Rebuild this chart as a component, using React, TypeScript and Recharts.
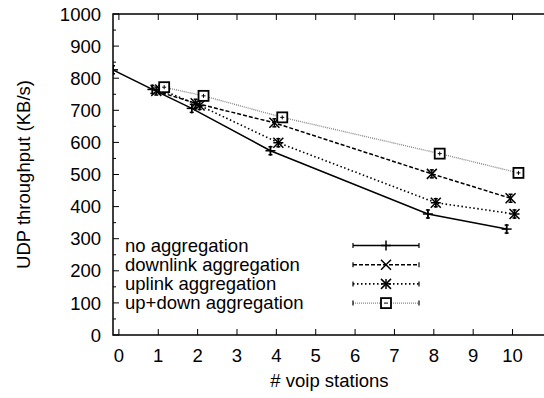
import React from 'react';
import { LineChart, Line, XAxis, YAxis, ReferenceArea } from 'recharts';

// number of voip stations measured
const stations = [0, 1, 2, 4, 8, 10];

// UDP throughput in KB/s, one list per configuration
const noAggregation = [826, 765, 706, 574, 377, 330];
const downlinkAggregation = [null, 760, 722, 661, 502, 426];
const uplinkAggregation = [null, 765, 715, 599, 412, 377];
const upDownAggregation = [null, 772, 745, 678, 565, 505];

const seriesNames = ['no aggregation', 'downlink aggregation', 'uplink aggregation', 'up+down aggregation'];
// small horizontal shift per series so the points don't sit on top of each other
const xShift = [-0.15, -0.05, 0.05, 0.15];

const xTicks = [0, 1, 2, 3, 4, 5, 6, 7, 8, 9, 10];
const yTicks = [0, 50, 100, 150, 200, 250, 300, 350, 400, 450, 500, 550, 600, 650, 700, 750, 800, 850, 900, 950, 1000];

const FONT = '"Liberation Sans", Arial, Helvetica, sans-serif';
const FS = 18.5;
const PLOT_TOP = 14;
const PLOT_BOTTOM = 335;
const PLOT_LEFT = 113;
const CHART_W = 560;
const CHART_H = 398;

type MarkerKind = 'plus' | 'cross' | 'star' | 'square';

const styles: { stroke: string; dash?: string; width: number; marker: MarkerKind }[] = [
  { stroke: '#000', width: 1.5, marker: 'plus' },
  { stroke: '#000', dash: '4 2', width: 1.5, marker: 'cross' },
  { stroke: '#000', dash: '1.5 2.5', width: 1.6, marker: 'star' },
  { stroke: '#8a8a8a', dash: '1 1', width: 1.4, marker: 'square' },
];

const allSeries = [noAggregation, downlinkAggregation, uplinkAggregation, upDownAggregation];

const seriesData = allSeries.map((vals, s) =>
  stations
    .map((st, i) => ({ x: st + xShift[s], y: vals[i] }))
    .filter((p) => p.y !== null)
);

function Marker({ cx, cy, kind, errorBar = true }: { cx: number; cy: number; kind: MarkerKind; errorBar?: boolean }) {
  const r = 5;
  const sw = 1.5;
  const bar = errorBar ? (
    <>
      <line x1={cx} x2={cx} y1={cy - 4} y2={cy + 4} stroke="#000" strokeWidth={sw} />
      <line x1={cx - 2} x2={cx + 2} y1={cy - 4} y2={cy - 4} stroke="#000" strokeWidth={sw} />
      <line x1={cx - 2} x2={cx + 2} y1={cy + 4} y2={cy + 4} stroke="#000" strokeWidth={sw} />
    </>
  ) : null;
  const plus = (
    <>
      <line x1={cx - r} x2={cx + r} y1={cy} y2={cy} stroke="#000" strokeWidth={sw} />
      <line x1={cx} x2={cx} y1={cy - r} y2={cy + r} stroke="#000" strokeWidth={sw} />
    </>
  );
  const cross = (
    <>
      <line x1={cx - r} x2={cx + r} y1={cy - r} y2={cy + r} stroke="#000" strokeWidth={sw} />
      <line x1={cx - r} x2={cx + r} y1={cy + r} y2={cy - r} stroke="#000" strokeWidth={sw} />
    </>
  );
  if (kind === 'plus') return <g>{bar}{plus}</g>;
  if (kind === 'cross') return <g>{bar}{cross}</g>;
  if (kind === 'star') return <g>{bar}{plus}{cross}</g>;
  return (
    <g>
      <rect x={cx - r} y={cy - r} width={2 * r} height={2 * r} fill="#fff" stroke="#000" strokeWidth={1.8} />
      {errorBar && <line x1={cx} x2={cx} y1={cy - 2} y2={cy + 2} stroke="#000" strokeWidth={1} />}
      <line x1={cx - 2} x2={cx + 2} y1={cy} y2={cy} stroke="#000" strokeWidth={1} />
    </g>
  );
}

function XTick(props: any) {
  const { x, payload } = props;
  return (
    <g>
      <line x1={x} x2={x} y1={PLOT_BOTTOM} y2={PLOT_BOTTOM - 6} stroke="#000" strokeWidth={1} />
      <line x1={x} x2={x} y1={PLOT_TOP} y2={PLOT_TOP + 6} stroke="#000" strokeWidth={1} />
      <text x={x} y={PLOT_BOTTOM + 27} textAnchor="middle" fontFamily={FONT} fontSize={FS} fill="#000">
        {payload.value}
      </text>
    </g>
  );
}

function YTick(props: any) {
  const { y, payload } = props;
  const major = payload.value % 100 === 0;
  return (
    <g>
      <line x1={PLOT_LEFT} x2={PLOT_LEFT + (major ? 6 : 3)} y1={y} y2={y} stroke="#000" strokeWidth={1} />
      {major && (
        <text x={PLOT_LEFT - 12} y={y + 6.6} textAnchor="end" fontFamily={FONT} fontSize={FS} fill="#000">
          {payload.value}
        </text>
      )}
    </g>
  );
}

function Legend() {
  const rowBaselines = [251.5, 270.7, 289.9, 309.1];
  const x1 = 353;
  const x2 = 419;
  const mid = 386;
  return (
    <svg width={544} height={398} style={{ position: 'absolute', left: 0, top: 0, pointerEvents: 'none' }}>
      {seriesNames.map((name, i) => {
        const st = styles[i];
        const ly = rowBaselines[i] - 6;
        return (
          <g key={name}>
            <text x={125} y={rowBaselines[i]} fontFamily={FONT} fontSize={FS} fill="#000">
              {name}
            </text>
            <line x1={x1} x2={x2} y1={ly} y2={ly} stroke={st.stroke} strokeWidth={st.width} strokeDasharray={st.dash} />
            <line x1={x1} x2={x1} y1={ly - 2.5} y2={ly + 2.5} stroke="#000" strokeWidth={1.2} />
            <line x1={x2} x2={x2} y1={ly - 2.5} y2={ly + 2.5} stroke="#000" strokeWidth={1.2} />
            <Marker cx={mid} cy={ly} kind={st.marker} errorBar={false} />
          </g>
        );
      })}
    </svg>
  );
}

export default function App() {
  return (
    <div style={{ position: 'fixed', left: 0, top: 0, width: 544, height: 398, overflow: 'hidden', background: '#fff' }}>
      <div style={{ position: 'relative', width: CHART_W, height: CHART_H }}>
        <LineChart
          width={CHART_W}
          height={CHART_H}
          margin={{ top: PLOT_TOP, right: CHART_W - 546, bottom: 0, left: 0 }}
        >
          <XAxis
            type="number"
            dataKey="x"
            domain={[-0.15, 10.85]}
            ticks={xTicks}
            interval={0}
            allowDataOverflow
            axisLine={false}
            tickLine={false}
            height={CHART_H - PLOT_BOTTOM}
            tick={<XTick />}
            label={{
              content: (p: any) => {
                const vb = p.viewBox;
                return (
                  <text x={vb.x + vb.width / 2} y={387} textAnchor="middle" fontFamily={FONT} fontSize={FS} fill="#000">
                    # voip stations
                  </text>
                );
              },
            }}
          />
          <YAxis
            type="number"
            dataKey="y"
            domain={[0, 1000]}
            ticks={yTicks}
            interval={0}
            allowDataOverflow
            axisLine={false}
            tickLine={false}
            width={PLOT_LEFT}
            tick={<YTick />}
            label={{
              content: (p: any) => {
                const vb = p.viewBox;
                const cx = 24;
                const cy = vb.y + vb.height / 2;
                return (
                  <text
                    x={cx}
                    y={cy}
                    dy="0.35em"
                    textAnchor="middle"
                    transform={`rotate(-90, ${cx}, ${cy})`}
                    fontFamily={FONT}
                    fontSize={FS}
                    fill="#000"
                  >
                    UDP throughput (KB/s)
                  </text>
                );
              },
            }}
          />
          <ReferenceArea x1={-0.15} x2={10.85} y1={0} y2={1000} fill="none" stroke="#000" strokeWidth={1.5} ifOverflow="visible" />
          {seriesData.map((data, s) => (
            <Line
              key={seriesNames[s]}
              data={data}
              dataKey="y"
              name={seriesNames[s]}
              type="linear"
              stroke={styles[s].stroke}
              strokeWidth={styles[s].width}
              strokeDasharray={styles[s].dash}
              isAnimationActive={false}
              dot={(p: any) => <Marker key={p.index} cx={p.cx} cy={p.cy} kind={styles[s].marker} />}
              activeDot={false}
            />
          ))}
        </LineChart>
        <Legend />
      </div>
    </div>
  );
}
